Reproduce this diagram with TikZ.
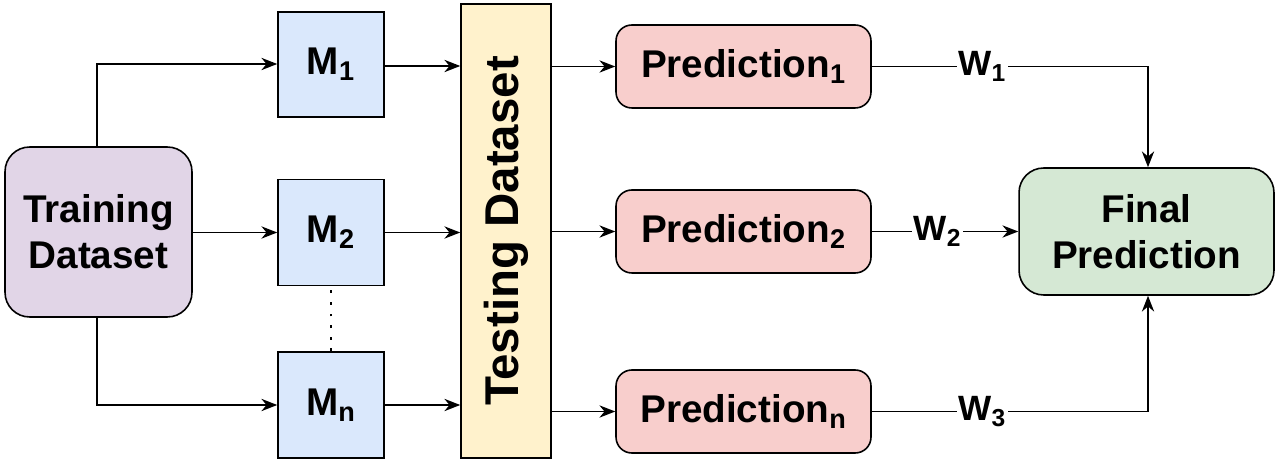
\documentclass[tikz,border=0pt]{standalone}
\usepackage{fontspec}
\setmainfont{Liberation Sans}
\usetikzlibrary{arrows.meta}
\definecolor{cpur}{HTML}{E1D5E7}
\definecolor{cblu}{HTML}{DAE8FC}
\definecolor{cyel}{HTML}{FFF2CC}
\definecolor{cred}{HTML}{F8CECC}
\definecolor{cgrn}{HTML}{D5E8D4}
\begin{document}
\begin{tikzpicture}[x=0.02cm,y=-0.02cm,
  box/.style={draw,line width=0.9pt,font=\fontsize{22}{26}\selectfont\bfseries,align=center,inner sep=0pt},
  arr/.style={-{Stealth[length=9pt,width=7pt]},line width=0.9pt},
  ln/.style={line width=0.9pt},
  wl/.style={fill=white,font=\fontsize{20}{24}\selectfont\bfseries,inner sep=1pt}]
\useasboundingbox (0,0) rectangle (1280,465);
\node[box,fill=cpur,rounded corners=14pt,minimum width=3.74cm,minimum height=3.4cm] (tr) at (98.5,232) {Training\\Dataset};
\node[box,fill=cblu,minimum width=2.12cm,minimum height=2.1cm] (m1) at (331,64.5) {M$_\mathbf{1}$};
\node[box,fill=cblu,minimum width=2.12cm,minimum height=2.12cm] (m2) at (331,232.5) {M$_\mathbf{2}$};
\node[box,fill=cblu,minimum width=2.12cm,minimum height=2.12cm] (mn) at (331,405) {M$_\mathbf{n}$};
\draw[line width=1.6pt,dash pattern=on 1.6pt off 5pt] (mn.north) -- (m2.south);
\node[box,fill=cyel,minimum width=1.8cm,minimum height=9.08cm] (te) at (506,231) {};
\node[font=\fontsize{27}{30}\selectfont\bfseries,rotate=90] (tet) at (te.center) {Testing Dataset};
\node[box,fill=cred,rounded corners=9pt,minimum width=5.1cm,minimum height=1.66cm] (p1) at (743.5,66.5) {Prediction$_\mathbf{1}$};
\node[box,fill=cred,rounded corners=9pt,minimum width=5.1cm,minimum height=1.66cm] (p2) at (743.5,231.5) {Prediction$_\mathbf{2}$};
\node[box,fill=cred,rounded corners=9pt,minimum width=5.1cm,minimum height=1.66cm] (pn) at (743.5,411.5) {Prediction$_\mathbf{n}$};
\node[box,fill=cgrn,rounded corners=14pt,minimum width=5.1cm,minimum height=2.54cm] (fi) at (1146.5,231.5) {Final\\Prediction};
\coordinate (c1) at (97,64);
\coordinate (c2) at (97,405);
\draw[arr] (tr.north -| c1) -- (c1) -- (m1.west |- c1);
\draw[arr] (tr.east |- m2) -- (m2.west);
\draw[arr] (tr.south -| c2) -- (c2) -- (mn.west |- c2);
\draw[arr] (m1.east |- 0,66) -- (te.west |- 0,66);
\draw[arr] (m2.east) -- (te.west |- m2);
\draw[arr] (mn.east) -- (te.west |- mn);
\draw[arr] (te.east |- p1) -- (p1.west);
\draw[arr] (te.east |- p2) -- (p2.west);
\draw[arr] (te.east |- pn) -- (pn.west);
\coordinate (k1) at (1148,66.5);
\coordinate (k3) at (1148,411.5);
\draw[arr] (p1.east) -- node[wl,pos=0.4]{W$_\mathbf{1}$} (k1) -- (fi.north -| k1);
\draw[arr] (p2.east) -- node[wl,pos=0.45]{W$_\mathbf{2}$} (fi.west);
\draw[arr] (pn.east) -- node[wl,pos=0.4]{W$_\mathbf{3}$} (k3) -- (fi.south -| k3);
\end{tikzpicture}
\end{document}
